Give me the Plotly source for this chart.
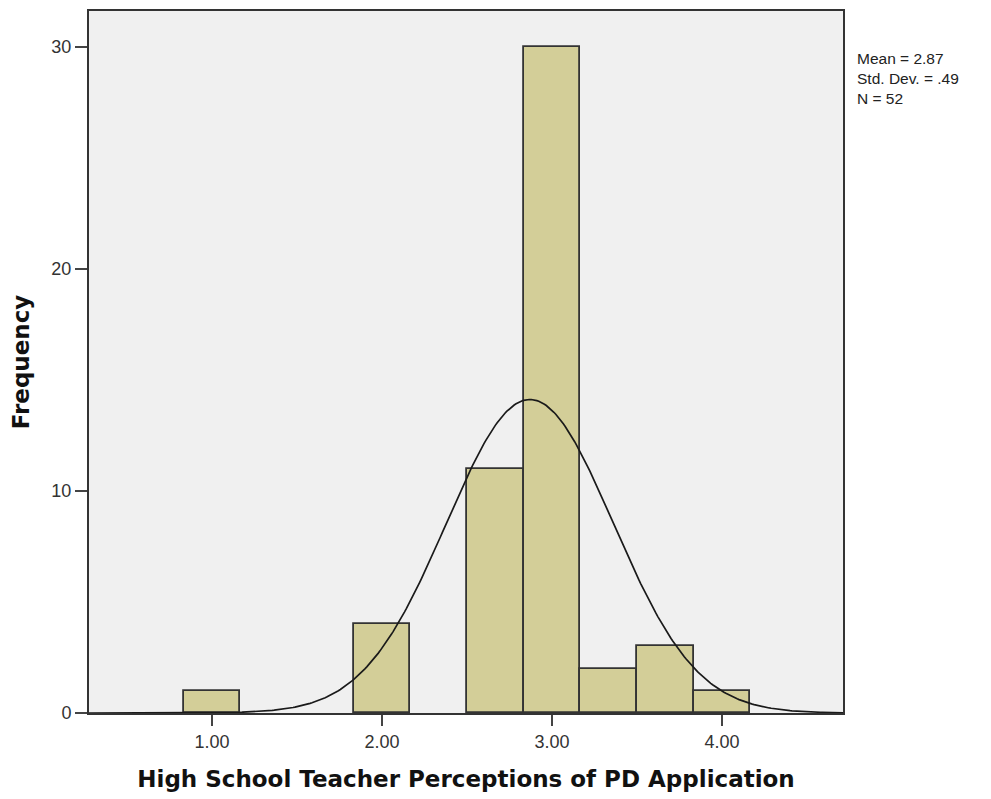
import plotly.graph_objects as go
import numpy as np

# histogram bins (centers, width 1/3) and frequencies
bin_centers = [1.0, 2.0, 8 / 3, 3.0, 10 / 3, 11 / 3, 4.0]
counts = [1, 4, 11, 30, 2, 3, 1]
bin_width = 1 / 3

mean = 2.87
std_dev = 0.49
n = 52

x_ticks = [1.0, 2.0, 3.0, 4.0]
x_tick_labels = ["1.00", "2.00", "3.00", "4.00"]
y_ticks = [0, 10, 20, 30]
stats_lines = ["Mean = 2.87", "Std. Dev. = .49", "N = 52"]

x_range = [0.2765, 4.712]
y_range = [0, 31.6]

# fitted normal curve from the summary stats
xs = np.linspace(x_range[0], x_range[1], 400)
ys = n * bin_width / (std_dev * np.sqrt(2 * np.pi)) * np.exp(-0.5 * ((xs - mean) / std_dev) ** 2)

fig = go.Figure()

fig.add_trace(go.Bar(
    x=bin_centers, y=counts, width=bin_width,
    marker=dict(color="#d3ce98", line=dict(color="#333333", width=1.8)),
    showlegend=False, hoverinfo="x+y",
))
fig.add_trace(go.Scatter(
    x=xs, y=ys, mode="lines",
    line=dict(color="#1a1a1a", width=1.7),
    showlegend=False, hoverinfo="skip",
))

# page body has an 8px margin, so the figure is 8px smaller than the window
fig.update_layout(
    width=983, height=791,
    margin=dict(l=81, r=148, t=1, b=86),
    paper_bgcolor="white",
    plot_bgcolor="#f0f0f0",
    font=dict(family="Liberation Sans, Arial, sans-serif", color="#222"),
    bargap=0,
)

title_font = dict(family="DejaVu Sans, Verdana, sans-serif", size=23, color="#111")

fig.update_xaxes(
    range=x_range, tickvals=x_ticks, ticktext=x_tick_labels,
    ticks="outside", ticklen=11, tickwidth=2, tickcolor="#444",
    showline=True, linecolor="#333", linewidth=2, mirror=True,
    showgrid=False, zeroline=False,
    tickfont=dict(size=18, color="#333"),
    title=dict(text="<b>High School Teacher Perceptions of PD Application</b>",
               font=title_font, standoff=20),
)
fig.update_yaxes(
    range=y_range, tickvals=y_ticks,
    ticks="outside", ticklen=12, tickwidth=2, tickcolor="#444",
    showline=True, linecolor="#333", linewidth=2, mirror=True,
    showgrid=False, zeroline=False,
    tickfont=dict(size=18, color="#333"),
    title=dict(text="<b>Frequency</b>", font=title_font, standoff=24),
)

fig.add_annotation(
    x=1, xref="paper", xanchor="left", xshift=12,
    y=28.57, yref="y", yanchor="middle",
    text="<br>".join(stats_lines), showarrow=False, align="left",
    font=dict(size=15.5, color="#222"),
)

fig.write_html("out.html")
